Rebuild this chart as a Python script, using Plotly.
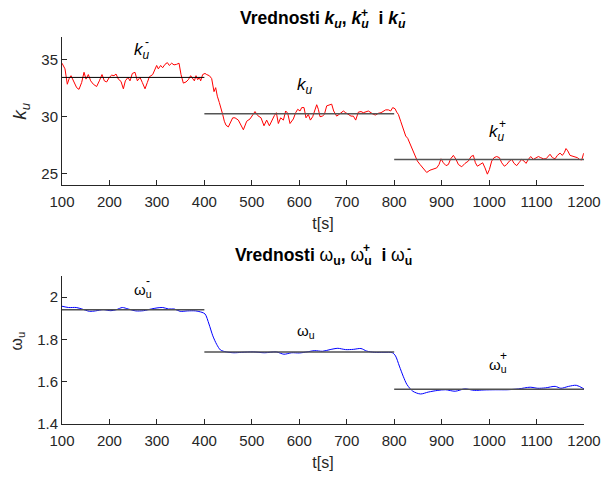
import plotly.graph_objects as go

# ---------------- data ----------------
t_k = [100, 106.3, 111.2, 115.5, 119, 123.9, 130.9, 135.8, 141.4, 146.4, 150.6, 155.5, 160.4,
       166, 173, 178.7, 184.3, 189.2, 194.1, 199.7, 204.7, 209.6, 213.8, 218.7, 224.3, 229.3,
       233.5, 239.1, 243.3, 248.2, 253.8, 258.8, 264.4, 269.3, 274.9, 279.8, 284, 291.1, 296,
       299.5, 303, 307.9, 312.1, 317.1, 322, 326.2, 331.1, 336, 341.6, 346.6, 350.8, 355.7,
       361.3, 366.2, 371.1, 375.4, 378.9, 382.4, 385.9, 389.4, 392.2, 396.4, 401.3, 404.9,
       410.5, 415.4, 420.3, 423.8, 427.3, 431.5, 435.1, 438.6, 442.1, 445.6, 450.5, 455.4,
       459.7, 464.6, 471.6, 482.2, 489.2, 496.2, 503.2, 506.7, 512.4, 519.4, 525.7, 531.3,
       537, 541.9, 547.5, 551.7, 555.9, 560.8, 566.5, 571.4, 575.6, 580.5, 587.5, 592.4,
       596.7, 601.6, 605.1, 610, 614.2, 619.1, 623.4, 628.3, 633.2, 636.7, 640.2, 643.7,
       648.6, 652.9, 657.8, 662.7, 668.3, 672.5, 678.8, 683.8, 689.4, 692.9, 697.8, 703.4,
       709, 714, 718.9, 724.5, 730.1, 735, 740, 745.6, 751.2, 756.1, 761, 766.7, 772.3,
       777.2, 782.1, 787.8, 792.6, 796.9, 801.8, 805.3, 808.8, 813.7, 819.3, 824.3, 828.5,
       833.4, 839, 844, 848.9, 854.5, 861.5, 868.5, 875.5, 882.6, 889.6, 894.5, 898.7,
       903.6, 909.3, 914.2, 919.1, 924.7, 930.3, 935.3, 942.3, 949.3, 956.3, 962, 966.9,
       971.1, 975.3, 980.9, 986.5, 991.4, 996.4, 1000.6, 1005.5, 1010.4, 1016, 1021.7,
       1026.6, 1032.2, 1037.1, 1042.7, 1047.7, 1052.6, 1058.2, 1063.8, 1068.7, 1073.6,
       1077.9, 1082.8, 1087.7, 1093.3, 1099, 1103.9, 1108.8, 1114.4, 1120, 1125, 1128.4,
       1133.4, 1139, 1143.9, 1149.5, 1154.4, 1158.6, 1162.1, 1165.7, 1170.6, 1176.2,
       1181.1, 1186, 1190.3, 1195.2, 1198.7, 1200]
k_u = [34.7, 34.2, 32.85, 33.4, 33.6, 33.2, 32.55, 32.4, 33.0, 33.9, 33.3, 33.7, 33.15,
       32.85, 32.65, 33.15, 33.7, 33.15, 33.05, 33.45, 33.65, 33.6, 33.75, 33.3, 33.1, 32.45,
       33.15, 33.45, 33.15, 33.8, 33.9, 33.15, 33.45, 33.0, 32.45, 33.0, 33.5, 33.7, 34.2,
       34.5, 34.2, 34.5, 34.3, 34.6, 34.75, 34.5, 34.7, 34.55, 34.6, 34.7, 33.7, 32.95,
       33.05, 33.25, 33.6, 33.3, 33.15, 33.6, 33.25, 33.45, 33.15, 33.7, 33.8, 33.7,
       33.6, 33.35, 32.2, 32.55, 31.8, 31.25, 30.8, 30.2, 29.6, 29.25, 29.1, 29.5,
       29.9, 29.9, 29.7, 28.85, 29.6, 29.8, 30.2, 30.45, 30.1, 29.9, 29.2, 29.7,
       29.2, 29.7, 30.1, 30.35, 29.4, 29.9, 29.7, 30.5, 30.3, 29.4, 29.8, 30.35,
       30.65, 30.5, 30.8, 30.8, 29.9, 30.2, 29.7, 30.0, 30.65, 31.05, 30.65, 30.0,
       30.05, 30.2, 30.95, 31.05, 31.1, 30.5, 30.05, 30.2, 30.35, 30.5, 30.35, 30.2,
       30.05, 30.05, 29.7, 30.4, 30.45, 30.35, 30.45, 30.5, 30.35, 30.2, 30.15, 30.3, 30.35,
       30.5, 30.6, 30.6, 30.5, 30.8, 30.7, 30.4, 30.2, 29.6, 28.85, 28.3, 28.1,
       27.6, 27.1, 26.6, 26.1, 25.8, 25.4, 25.1, 25.3, 25.4, 25.5, 25.8, 26.3,
       25.95, 25.7, 25.8, 26.3, 26.6, 26.25, 25.8, 25.6, 25.9, 26.1, 26.5, 26.6,
       25.95, 25.65, 25.8, 25.95, 25.5, 24.95, 25.35, 26.1, 26.4, 26.5, 26.4,
       25.95, 25.65, 25.8, 26.1, 26.25, 25.9, 25.7, 26.0, 26.25, 26.1,
       25.9, 26.25, 26.5, 26.25, 26.4, 26.5, 26.4, 26.3, 26.3, 26.5, 26.7,
       26.4, 26.3, 26.6, 26.8, 26.6, 26.85, 27.2, 27.0, 26.6, 26.55,
       26.5, 26.4, 26.25, 26.2, 26.7, 26.8]

t_w = [100, 113.8, 130, 142, 158, 170.5, 186.7, 203, 215, 227, 239.4, 255.6, 271.9, 288,
       300.2, 312.4, 324.5, 336.7, 348.9, 365, 381.3, 395, 401.6, 409.7, 417.8, 425.9, 434,
       446, 462.4, 478.6, 503, 527, 551.5, 567.7, 584, 600, 616.4, 632.6, 648.9, 665, 681.3,
       697.5, 713.8, 730, 742, 758.2, 778.5, 796.3, 802.8, 810.9, 819, 827.1, 839.3, 855.5,
       871.7, 892, 908.2, 928.5, 948.7, 969, 989.3, 1013.6, 1038, 1062.2, 1086.5, 1102.7,
       1119, 1139.2, 1151.4, 1167.6, 1183.8, 1200]
w_u = [1.957, 1.951, 1.951, 1.944, 1.933, 1.935, 1.941, 1.936, 1.941, 1.951, 1.944, 1.935,
       1.936, 1.944, 1.949, 1.951, 1.944, 1.944, 1.933, 1.935, 1.935, 1.928, 1.920, 1.873,
       1.817, 1.777, 1.750, 1.741, 1.737, 1.739, 1.741, 1.737, 1.741, 1.730, 1.737, 1.736,
       1.741, 1.747, 1.744, 1.752, 1.758, 1.752, 1.753, 1.757, 1.745, 1.739, 1.739, 1.737,
       1.722, 1.674, 1.626, 1.586, 1.555, 1.542, 1.551, 1.559, 1.562, 1.555, 1.566, 1.559,
       1.561, 1.562, 1.562, 1.566, 1.574, 1.569, 1.571, 1.578, 1.569, 1.578, 1.583, 1.566]

seg_edges = [100, 400, 800, 1200]
k_levels = [33.45, 30.25, 26.25]
w_levels = [1.940, 1.741, 1.564]

x_ticks = [100, 200, 300, 400, 500, 600, 700, 800, 900, 1000, 1100, 1200]
k_ticks = [25, 30, 35]
w_ticks = [1.4, 1.6, 1.8, 2.0]
w_tick_text = ["1.4", "1.6", "1.8", "2"]

# label positions (data coords) and sign marks
k_labels = [(268, 35.75, "-"), (612, 32.7, ""), (1017, 28.6, "+")]
w_labels = [(271, 2.033, "-"), (614, 1.837, ""), (1019, 1.679, "+")]

FONT = "Liberation Sans, Arial, Helvetica, sans-serif"
AX = "#262626"

fig = go.Figure()

fig.add_trace(go.Scatter(x=t_k, y=k_u, mode="lines", line=dict(color="#ff0000", width=1),
                         xaxis="x", yaxis="y", showlegend=False))
for i, lv in enumerate(k_levels):
    fig.add_trace(go.Scatter(x=[seg_edges[i], seg_edges[i + 1]], y=[lv, lv], mode="lines",
                             line=dict(color="#000000" if i == 0 else "#555555", width=1 if i == 0 else 1.5),
                             xaxis="x", yaxis="y", showlegend=False))

fig.add_trace(go.Scatter(x=t_w, y=w_u, mode="lines", line=dict(color="#0000ff", width=1, shape="spline", smoothing=0.8),
                         xaxis="x2", yaxis="y2", showlegend=False))
for i, lv in enumerate(w_levels):
    fig.add_trace(go.Scatter(x=[seg_edges[i], seg_edges[i + 1]], y=[lv, lv], mode="lines",
                             line=dict(color="#505050", width=1.5),
                             xaxis="x2", yaxis="y2", showlegend=False))

axis_common = dict(showline=True, linecolor=AX, linewidth=1, ticks="inside", ticklen=5,
                   tickcolor=AX, showgrid=False, zeroline=False, automargin=False,
                   tickfont=dict(family=FONT, size=15, color=AX))

fig.update_layout(
    width=603, height=479,
    margin=dict(l=62, r=19, t=37, b=55, autoexpand=False),
    paper_bgcolor="white", plot_bgcolor="white",
    xaxis=dict(domain=[0, 1], anchor="y", range=[100, 1200], tickvals=x_ticks, ticklabelstandoff=3,
               title=dict(text="t[s]", font=dict(family=FONT, size=16, color=AX), standoff=8),
               **axis_common),
    yaxis=dict(domain=[0.6176, 1], anchor="x", range=[24, 37], tickvals=k_ticks, **axis_common),
    xaxis2=dict(domain=[0, 1], anchor="y2", range=[100, 1200], tickvals=x_ticks, ticklabelstandoff=3,
                title=dict(text="t[s]", font=dict(family=FONT, size=16, color=AX), standoff=8),
                **axis_common),
    yaxis2=dict(domain=[0, 0.3824], anchor="x2", range=[1.4, 2.1], tickvals=w_ticks,
                ticktext=w_tick_text, **axis_common),
)

ann = []
# titles
ann.append(dict(xref="paper", yref="paper", x=0.5, y=1.044, xanchor="center", yanchor="middle",
                text="<b>Vrednosti <i>k<sub>u</sub></i>, <i>k<sub>u</sub></i>  i <i>k<sub>u</sub></i></b>",
                showarrow=False, font=dict(family=FONT, size=17.5, color="black")))
ann.append(dict(xref="paper", yref="paper", x=0.5, y=0.434, xanchor="center", yanchor="middle",
                text="<b>Vrednosti </b>ω<b><sub>u</sub>, </b>ω<b><sub>u</sub>  i </b>ω<b><sub>u</sub></b>",
                showarrow=False, font=dict(family=FONT, size=17.5, color="black")))
# title superscript marks
title_marks = [(0.5795, 1.061, "+"), (0.653, 1.061, "-"), (0.584, 0.455, "+"), (0.665, 0.453, "-")]
for (xx, yy, s) in title_marks:
    ann.append(dict(xref="paper", yref="paper", x=xx, y=yy, xanchor="center", yanchor="middle",
                    text="<b>" + s + "</b>", showarrow=False,
                    font=dict(family=FONT, size=12, color="black")))
# y-axis titles
ann.append(dict(xref="paper", yref="paper", x=-0.08, y=0.81, xanchor="center", yanchor="middle",
                text="<i>k<sub>u</sub></i>", textangle=-90, showarrow=False,
                font=dict(family=FONT, size=19, color=AX)))
ann.append(dict(xref="paper", yref="paper", x=-0.085, y=0.215, xanchor="center", yanchor="middle",
                text="ω<sub>u</sub>", textangle=-90, showarrow=False,
                font=dict(family=FONT, size=16, color=AX)))

for (x, y, s) in k_labels:
    ann.append(dict(xref="x", yref="y", x=x, y=y, xanchor="center", yanchor="middle",
                    text="<i>k<sub>u</sub></i>", showarrow=False,
                    font=dict(family=FONT, size=17, color="black")))
    if s:
        ann.append(dict(xref="x", yref="y", x=x, y=y, xanchor="center", yanchor="middle",
                        xshift=5, yshift=9, text=s, showarrow=False,
                        font=dict(family=FONT, size=12, color="black")))
for (x, y, s) in w_labels:
    ann.append(dict(xref="x2", yref="y2", x=x, y=y, xanchor="center", yanchor="middle",
                    text="ω<sub>u</sub>", showarrow=False,
                    font=dict(family=FONT, size=15, color="black")))
    if s:
        ann.append(dict(xref="x2", yref="y2", x=x, y=y, xanchor="center", yanchor="middle",
                        xshift=5, yshift=9, text=s, showarrow=False,
                        font=dict(family=FONT, size=12, color="black")))

fig.update_layout(annotations=ann)
fig.write_html("out.html", config={"displayModeBar": False},
               post_script="document.body.style.margin='0px';")
